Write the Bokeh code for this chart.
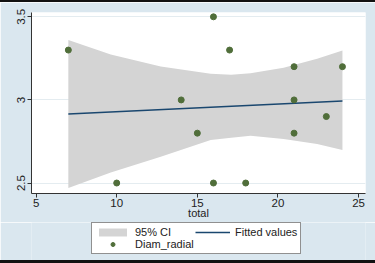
from bokeh.plotting import figure
from bokeh.models import Range1d, FixedTicker, Legend, LegendItem, Div
from bokeh.layouts import column
from bokeh.embed import file_html
from bokeh.resources import INLINE

# scatter data (total vs Diam_radial)
total = [7, 10, 14, 15, 16, 16, 17, 18, 21, 21, 21, 23, 24]
diam_radial = [3.3, 2.5, 3.0, 2.8, 3.5, 2.5, 3.3, 2.5, 3.2, 3.0, 2.8, 2.9, 3.2]

# fitted values (linear fit)
fit_x = [7, 24]
fit_y = [2.916, 2.994]

# 95% CI band
ci_x = [7, 9.63, 12.73, 15.83, 17.1, 18.3, 20.35, 22.43, 24]
ci_hi = [3.361, 3.273, 3.201, 3.157, 3.152, 3.160, 3.193, 3.247, 3.297]
ci_lo = [2.470, 2.564, 2.658, 2.759, 2.772, 2.785, 2.765, 2.735, 2.699]

x_ticks = [5, 10, 15, 20, 25]
y_ticks = [2.5, 3, 3.5]

FONT = "Liberation Sans"
BG = "#dae7ef"
CI_COL = "#d4d4d4"
FIT_COL = "#1a476f"
PT_COL = "#506e3a"

# ---- main plot ----
p = figure(width=375, height=220, output_backend="svg", toolbar_location=None,
           x_range=Range1d(4.715, 25.43), y_range=Range1d(2.437, 3.526),
           min_border_left=31, min_border_right=10, min_border_top=10,
           min_border_bottom=29)
p.background_fill_color = "white"
p.border_fill_color = BG
p.outline_line_color = None

p.varea(x=ci_x, y1=ci_lo, y2=ci_hi, fill_color=CI_COL, fill_alpha=1)
p.line(fit_x, fit_y, line_color=FIT_COL, line_width=1.5)
p.scatter(total, diam_radial, size=6, fill_color=PT_COL, line_color=PT_COL)

for ax in (p.xaxis[0], p.yaxis[0]):
    ax.axis_line_color = "#333333"
    ax.major_tick_line_color = "#333333"
    ax.major_tick_out = 4
    ax.major_tick_in = 0
    ax.minor_tick_out = 0
    ax.minor_tick_in = 0
    ax.major_label_text_font = FONT
    ax.major_label_text_font_size = "11.5px"
    ax.major_label_text_color = "#222222"

p.xaxis.ticker = FixedTicker(ticks=x_ticks)
p.yaxis.ticker = FixedTicker(ticks=y_ticks)
p.yaxis.major_label_orientation = "vertical"
p.yaxis.major_label_standoff = 2
p.xaxis.major_label_standoff = 1
p.xaxis.axis_label = "total"
p.xaxis.axis_label_text_font = FONT
p.xaxis.axis_label_text_font_size = "11px"
p.xaxis.axis_label_text_font_style = "normal"
p.xaxis.axis_label_text_color = "#222222"
p.xaxis.axis_label_standoff = -3

p.xgrid.visible = False
p.ygrid.ticker = FixedTicker(ticks=y_ticks)
p.ygrid.grid_line_color = "#e4ecf0"

# ---- legend strip (own figure so the legend is not clipped) ----
pl = figure(width=375, height=38, output_backend="svg", toolbar_location=None,
            x_range=Range1d(0, 1), y_range=Range1d(0, 1),
            x_axis_type=None, y_axis_type=None,
            min_border_left=0, min_border_right=0, min_border_top=0,
            min_border_bottom=0)
pl.min_border = 0
pl.background_fill_color = BG
pl.border_fill_color = BG
pl.outline_line_color = None
pl.grid.visible = False

# legend-only renderers, placed outside the visible range
off_x = [-5, -4]
off_y = [-5, -5]
lb = pl.varea(x=off_x, y1=off_y, y2=off_y, fill_color=CI_COL, fill_alpha=1)
ll = pl.line(x=off_x, y=off_y, line_color=FIT_COL, line_width=1.5)
lp = pl.scatter(x=off_x, y=off_y, size=6, fill_color=PT_COL, line_color=PT_COL)

legend = Legend(items=[LegendItem(label="95% CI", renderers=[lb]),
                       LegendItem(label="Diam_radial", renderers=[lp]),
                       LegendItem(label="Fitted values", renderers=[ll])],
                location=(60, 6), ncols=2)
legend.border_line_color = "#222222"
legend.border_line_width = 1
legend.background_fill_color = "white"
legend.background_fill_alpha = 1
legend.padding = 3
legend.spacing = 0
legend.margin = 0
legend.glyph_width = 35
legend.glyph_height = 10
legend.label_standoff = 5
legend.label_height = 12
legend.label_width = 60
legend.label_text_font = FONT
legend.label_text_font_size = "11px"
legend.label_text_color = "#222222"
pl.add_layout(legend, "center")

# ---- outer frame lines ----
top_bar = Div(text="", width=375, height=2, margin=0,
              styles={"background-color": "#111111"})
bot_bar = Div(text="", width=375, height=3, margin=0,
              styles={"background-color": "#111111"})

layout = column(top_bar, p, pl, bot_bar, spacing=0, margin=0)

open("out.html", "w").write(file_html(layout, INLINE))
